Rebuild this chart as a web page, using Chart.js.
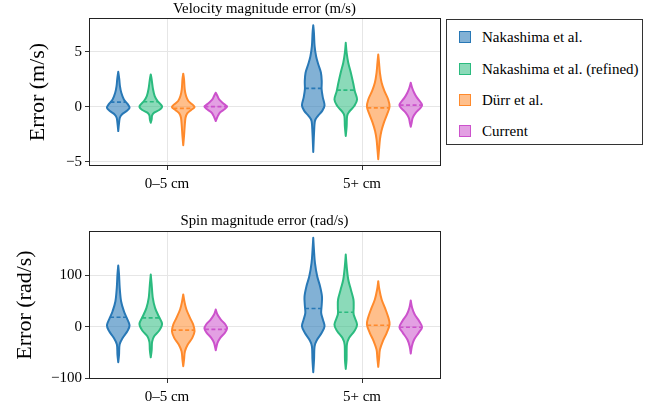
<!DOCTYPE html>
<html>
<head>
<meta charset="utf-8">
<script src="https://cdn.jsdelivr.net/npm/chart.js@4/dist/chart.umd.min.js"></script>
<style>
  html, body { margin: 0; padding: 0; background: #fff; }
  #wrap { position: relative; width: 661px; height: 413px; overflow: hidden; font-family: "Liberation Serif", "Times New Roman", serif; }
  canvas { position: absolute; left: 0; }
  #legend { position: absolute; left: 446px; top: 19px; width: 197px; height: 126px; border: 1px solid #333; box-sizing: border-box; background: #fff; }
  .item { position: absolute; left: 12px; height: 18px; line-height: 18px; font-size: 15px; color: #000; white-space: nowrap; }
  .sw { display: inline-block; width: 10px; height: 10px; border: 1.5px solid; vertical-align: middle; margin-right: 11px; margin-top: -3px; }
</style>
</head>
<body>
<div id="wrap">
  <canvas id="velChart" width="661" height="205" style="top:0"></canvas>
  <canvas id="spinChart" width="661" height="208" style="top:205px"></canvas>
  <div id="legend"></div>
</div>
<script>
// Distance bins on the x axis
const categories = ['0–5 cm', '5+ cm'];
const methods = ['Nakashima et al.', 'Nakashima et al. (refined)', 'Dürr et al.', 'Current'];
const lineColors = ['#2878b6', '#2bbb7f', '#ff8a2c', '#cc52cc'];
const fillColors = ['rgba(40,120,182,0.58)', 'rgba(43,187,127,0.55)', 'rgba(255,138,44,0.55)', 'rgba(204,82,204,0.55)'];

// Violin outlines: [error value, relative half-width] per distance bin
const velNakashima = [
  [[-2.21,0],[-1.5,0.07],[-1.0,0.14],[-0.7,0.32],[-0.4,0.74],[-0.09,1],[0.21,0.85],[0.66,0.5],[1.27,0.27],[1.87,0.15],[2.5,0.09],[3.17,0]],
  [[-4.11,0],[-2.36,0.07],[-1.3,0.15],[-0.85,0.4],[-0.4,0.78],[0.12,1],[0.82,0.85],[1.57,0.74],[2.32,0.75],[3.08,0.68],[3.83,0.45],[4.58,0.25],[5.49,0.12],[6.7,0.06],[7.39,0]]
];
const velRefined = [
  [[-1.45,0],[-1.15,0.08],[-0.78,0.12],[-0.54,0.3],[-0.3,0.75],[-0.03,1],[0.21,0.88],[0.52,0.6],[0.97,0.35],[1.58,0.2],[2.48,0.08],[2.93,0]],
  [[-2.66,0],[-1.76,0.08],[-0.85,0.12],[-0.4,0.35],[0.06,0.75],[0.66,1],[1.41,0.8],[2.17,0.65],[3.08,0.45],[3.99,0.22],[4.89,0.08],[5.8,0]]
];
const velDurr = [
  [[-3.5,0],[-2.65,0.07],[-1.75,0.13],[-1.0,0.2],[-0.6,0.35],[-0.3,0.7],[-0.04,1],[0.21,0.8],[0.52,0.45],[0.97,0.25],[1.58,0.13],[2.48,0.07],[2.99,0]],
  [[-4.77,0],[-3.87,0.07],[-2.96,0.15],[-2.21,0.28],[-1.45,0.5],[-0.7,0.78],[0,1],[0.66,0.88],[1.41,0.55],[2.17,0.3],[3.08,0.15],[3.99,0.07],[4.74,0]]
];
const velCurrent = [
  [[-1.3,0],[-1.1,0.08],[-0.81,0.2],[-0.51,0.4],[-0.21,0.8],[0,1],[0.12,0.9],[0.36,0.6],[0.66,0.3],[0.97,0.15],[1.27,0]],
  [[-1.81,0],[-1.45,0.08],[-1.0,0.18],[-0.54,0.45],[-0.18,0.8],[0.12,1],[0.36,0.9],[0.82,0.55],[1.27,0.3],[1.72,0.12],[2.17,0]]
];
const spinNakashima = [
  [[-68.6,0],[-53.7,0.07],[-34.3,0.12],[-21.3,0.4],[-8.5,0.8],[3,1],[17.4,0.75],[30.2,0.5],[49.6,0.25],[75.5,0.13],[101,0.07],[118.8,0]],
  [[-88,0],[-63.4,0.07],[-37.6,0.12],[-24.6,0.35],[-11.6,0.75],[1.2,1],[14.1,0.85],[27.1,0.7],[43.2,0.75],[59.3,0.77],[78.7,0.6],[98,0.35],[124,0.15],[149.8,0.06],[172.5,0]]
];
const spinRefined = [
  [[-58.9,0],[-45,0.08],[-29,0.12],[-18.2,0.3],[-7.2,0.75],[5.8,1],[20.5,0.7],[36.8,0.38],[56.2,0.18],[82,0.08],[101.4,0]],
  [[-81.4,0],[-63.4,0.07],[-34.3,0.1],[-21.3,0.3],[-8.5,0.75],[4.5,1],[23.8,0.7],[36.8,0.7],[52.9,0.68],[72.3,0.45],[91.7,0.22],[117.5,0.08],[140,0]]
];
const spinDurr = [
  [[-76.3,0],[-63.4,0.07],[-47.3,0.15],[-34.3,0.4],[-21.3,0.8],[-8.5,1],[4.5,0.88],[17.4,0.6],[33.5,0.28],[49.6,0.1],[62.6,0]],
  [[-77.5,0],[-60,0.08],[-44,0.15],[-27.9,0.4],[-11.6,0.75],[4.5,1],[17.4,0.9],[33.5,0.65],[52.9,0.3],[72.3,0.1],[88.4,0]]
];
const spinCurrent = [
  [[-45.3,0],[-31,0.15],[-21.3,0.4],[-11.6,0.8],[-3.3,1],[4.5,0.85],[14.1,0.45],[23.8,0.15],[33.5,0]],
  [[-51.7,0],[-37.6,0.1],[-24.6,0.3],[-11.6,0.7],[-0.8,1],[10.9,0.75],[23.8,0.35],[36.8,0.12],[51,0]]
];

// Mean error per method and distance bin (dashed line inside each violin)
const velMeans = [[0.42, 1.66], [0.45, 1.5], [-0.15, -0.1], [0.0, 0.15]];
const spinMeans = [[18.6, 35.5], [17.4, 28.3], [-6.5, 3.1], [-5, -0.8]];

const velTicks = [-5, 0, 5];
const spinTicks = [-100, 0, 100];

const methodOffsets = [-0.25, -0.0833, 0.0833, 0.25];
const violinHalfWidth = 0.058;
const FONT = '"Liberation Serif", "Times New Roman", serif';

function fmt(v) { return v < 0 ? '\u2212' + Math.abs(v) : String(v); }

function interpWidth(profile, v) {
  for (let i = 0; i < profile.length - 1; i++) {
    const a = profile[i], b = profile[i + 1];
    if (v >= a[0] && v <= b[0]) {
      const t = (v - a[0]) / (b[0] - a[0]);
      return a[1] + t * (b[1] - a[1]);
    }
  }
  return 0;
}

// Catmull-Rom through a list of pixel points, continuing the current path
function splineThrough(ctx, pts) {
  for (let i = 0; i < pts.length - 1; i++) {
    const p0 = pts[Math.max(i - 1, 0)], p1 = pts[i], p2 = pts[i + 1], p3 = pts[Math.min(i + 2, pts.length - 1)];
    const c1x = p1[0] + (p2[0] - p0[0]) / 6, c1y = p1[1] + (p2[1] - p0[1]) / 6;
    const c2x = p2[0] - (p3[0] - p1[0]) / 6, c2y = p2[1] - (p3[1] - p1[1]) / 6;
    ctx.bezierCurveTo(c1x, c1y, c2x, c2y, p2[0], p2[1]);
  }
}

const violinPlugin = {
  id: 'violins',
  beforeDatasetsDraw(chart, args, opts) {
    const ctx = chart.ctx, xs = chart.scales.x, ys = chart.scales.y;
    const area = chart.chartArea;
    ctx.save();
    ctx.beginPath();
    ctx.rect(area.left, area.top, area.right - area.left, area.bottom - area.top);
    ctx.clip();
    opts.profiles.forEach((perCat, m) => {
      perCat.forEach((profile, c) => {
        const xc = c + methodOffsets[m];
        const cx = xs.getPixelForValue(xc);
        const hw = xs.getPixelForValue(xc + violinHalfWidth) - cx;
        const right = profile.map(p => [cx + p[1] * hw, ys.getPixelForValue(p[0])]);
        const left = profile.slice().reverse().map(p => [cx - p[1] * hw, ys.getPixelForValue(p[0])]);
        ctx.beginPath();
        ctx.moveTo(right[0][0], right[0][1]);
        splineThrough(ctx, right);
        ctx.lineTo(left[0][0], left[0][1]);
        splineThrough(ctx, left);
        ctx.closePath();
        ctx.fillStyle = fillColors[m];
        ctx.fill();
        ctx.lineWidth = 2;
        ctx.lineJoin = 'round';
        ctx.strokeStyle = lineColors[m];
        ctx.stroke();
        // mean marker
        const mean = opts.means[m][c];
        const w = interpWidth(profile, mean) * hw;
        const my = ys.getPixelForValue(mean);
        ctx.beginPath();
        ctx.setLineDash([4, 2.5]);
        ctx.lineWidth = 1.7;
        ctx.moveTo(cx - w, my);
        ctx.lineTo(cx + w, my);
        ctx.stroke();
        ctx.setLineDash([]);
      });
    });
    ctx.restore();
  },
  afterDraw(chart, args, opts) {
    const ctx = chart.ctx, a = chart.chartArea;
    ctx.save();
    ctx.strokeStyle = '#222';
    ctx.lineWidth = 1;
    ctx.strokeRect(Math.round(a.left) + 0.5, Math.round(a.top) + 0.5, Math.round(a.right - a.left), Math.round(a.bottom - a.top) - 1);
    // panel title, centred over the plot area
    ctx.fillStyle = '#000';
    ctx.font = '14.8px ' + FONT;
    ctx.textAlign = 'center';
    ctx.textBaseline = 'middle';
    ctx.fillText(opts.title, (a.left + a.right) / 2, opts.titleY);
    ctx.restore();
  }
};

function makeChart(id, cfg) {
  const datasets = methods.map((name, m) => ({
    label: name,
    data: categories.map((_, c) => ({ x: c + methodOffsets[m], y: cfg.means[m][c] })),
    pointRadius: 0,
    showLine: false,
    borderColor: lineColors[m],
    backgroundColor: fillColors[m]
  }));
  return new Chart(document.getElementById(id), {
    type: 'scatter',
    data: { datasets },
    plugins: [violinPlugin],
    options: {
      responsive: false,
      animation: false,
      devicePixelRatio: 1,
      events: [],
      layout: { padding: { left: 0, right: 221, top: cfg.plotTop, bottom: 0 } },
      plugins: {
        legend: { display: false },
        tooltip: { enabled: false },
        title: { display: false },
        violins: { profiles: cfg.profiles, means: cfg.means, title: cfg.title, titleY: cfg.titleY }
      },
      scales: {
        x: {
          type: 'linear',
          min: -0.4,
          max: 1.4,
          afterBuildTicks: s => { s.ticks = categories.map((_, i) => ({ value: i })); },
          afterFit: s => { s.height = cfg.xHeight; },
          ticks: {
            callback: v => categories[v],
            color: '#000',
            font: { family: FONT, size: 15 },
            padding: 5,
            maxRotation: 0
          },
          grid: { color: '#e6e6e6', lineWidth: 1, tickColor: '#333', tickLength: 4 },
          border: { display: false }
        },
        y: {
          type: 'linear',
          min: cfg.yMin,
          max: cfg.yMax,
          afterBuildTicks: s => { s.ticks = cfg.yTicks.map(v => ({ value: v })); },
          afterFit: s => { s.width = 89; },
          ticks: {
            callback: v => fmt(v),
            color: '#000',
            font: { family: FONT, size: 15 },
            padding: 3
          },
          grid: { color: '#e6e6e6', lineWidth: 1, tickColor: '#333', tickLength: 4 },
          border: { display: false },
          title: {
            display: true,
            text: cfg.yTitle,
            color: '#000',
            font: { family: FONT, size: 22, lineHeight: 1.2 },
            padding: { top: cfg.yTitlePad, bottom: 0 }
          }
        }
      }
    }
  });
}

makeChart('velChart', {
  title: 'Velocity magnitude error (m/s)',
  titleY: 9,
  plotTop: 18,
  xHeight: 39,
  yMin: -5.38, yMax: 8.05,
  yTicks: velTicks,
  yTitle: 'Error (m/s)',
  yTitlePad: 24.8,
  profiles: [velNakashima, velRefined, velDurr, velCurrent],
  means: velMeans
});

makeChart('spinChart', {
  title: 'Spin magnitude error (rad/s)',
  titleY: 16,
  plotTop: 26,
  xHeight: 34,
  yMin: -101, yMax: 185.6,
  yTicks: spinTicks,
  yTitle: 'Error (rad/s)',
  yTitlePad: 11.8,
  profiles: [spinNakashima, spinRefined, spinDurr, spinCurrent],
  means: spinMeans
});

// Legend box beside the upper panel
const legendTops = [8, 40, 71, 102];
const legend = document.getElementById('legend');
methods.forEach((name, m) => {
  const row = document.createElement('div');
  row.className = 'item';
  row.style.top = legendTops[m] + 'px';
  const sw = document.createElement('span');
  sw.className = 'sw';
  sw.style.borderColor = lineColors[m];
  sw.style.background = fillColors[m];
  row.appendChild(sw);
  row.appendChild(document.createTextNode(name));
  legend.appendChild(row);
});
</script>
</body>
</html>
